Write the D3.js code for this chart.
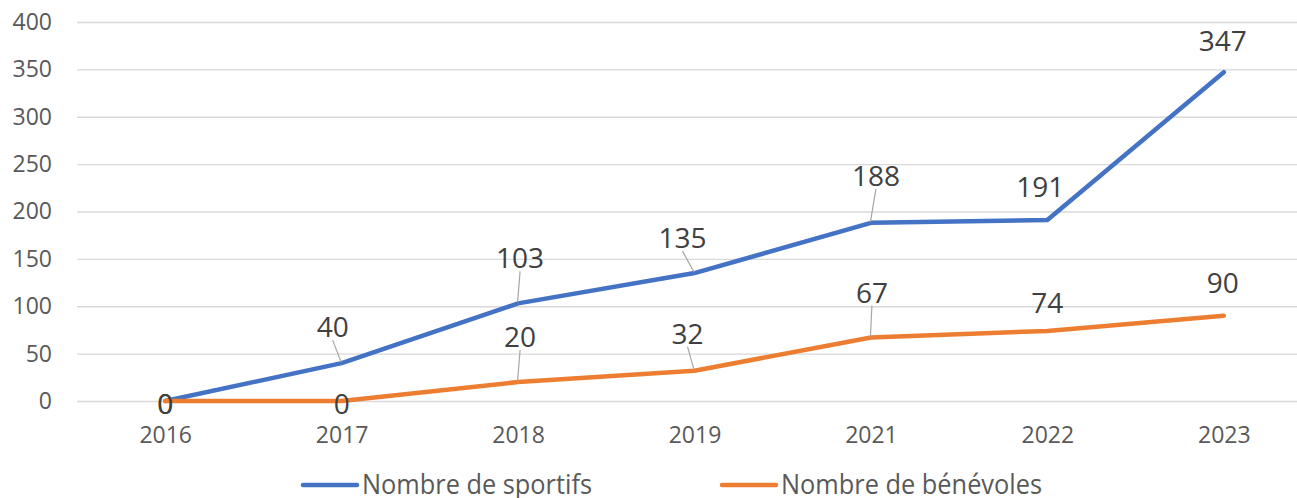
<!DOCTYPE html>
<html>
<head>
<meta charset="utf-8">
<script src="https://cdn.jsdelivr.net/npm/d3@7"></script>
<style>
  body { margin: 0; background: #fff; }
  svg { display: block; font-family: 'Open Sans', sans-serif; }
</style>
</head>
<body>
<div id="chart"></div>
<script>
const years = ['2016', '2017', '2018', '2019', '2021', '2022', '2023'];
const sportifs = [0, 40, 103, 135, 188, 191, 347];
const benevoles = [0, 0, 20, 32, 67, 74, 90];
const yTicks = [0, 50, 100, 150, 200, 250, 300, 350, 400];
const seriesNames = ['Nombre de sportifs', 'Nombre de bénévoles'];

// label offsets from the point (layout only), and whether a leader line is drawn
const sportifsLabelPos = [[0, 3, false], [-9, -36, true], [2, -45, true], [-12, -35, true], [5, -47, true], [-7, -33, false], [-1, -31, false]];
const benevolesLabelPos = [[0, 3, false], [0, 3, false], [2, -45, true], [-7, -37, true], [1, -45, true], [0, -28, false], [-1, -33, false]];

const width = 1297;
const height = 498;
const margin = { top: 22, left: 77, bottom: 97 };
const plotRight = 1312;

const svg = d3.select('#chart')
  .append('svg')
  .attr('width', width)
  .attr('height', height);

const x = d3.scalePoint()
  .domain(years)
  .range([margin.left, plotRight])
  .padding(0.5);

const y = d3.scaleLinear()
  .domain([0, 400])
  .range([height - margin.bottom, margin.top]);

// y axis + gridlines
const yAxis = svg.append('g')
  .attr('transform', `translate(${margin.left},0)`)
  .call(d3.axisLeft(y).tickValues(yTicks).tickSize(-(width - margin.left)).tickPadding(25));
yAxis.select('.domain').remove();
yAxis.selectAll('.tick line').attr('stroke', '#d9d9d9').attr('stroke-width', 1.3);
yAxis.selectAll('.tick text')
  .attr('fill', '#595959')
  .style('font-size', '23px')
  .style('font-family', "'Open Sans', sans-serif");

// x axis
const xAxis = svg.append('g')
  .attr('transform', `translate(0,${y(0)})`)
  .call(d3.axisBottom(x).tickSize(0).tickPadding(26));
xAxis.select('.domain').remove();
xAxis.selectAll('.tick text')
  .attr('fill', '#595959')
  .style('font-size', '23px')
  .style('font-family', "'Open Sans', sans-serif");

const series = [
  { name: seriesNames[0], values: sportifs, color: '#4472c4', labels: sportifsLabelPos },
  { name: seriesNames[1], values: benevoles, color: '#ed7d31', labels: benevolesLabelPos }
];

const line = d3.line()
  .x((d, i) => x(years[i]))
  .y(d => y(d));

series.forEach(s => {
  svg.append('path')
    .datum(s.values)
    .attr('fill', 'none')
    .attr('stroke', s.color)
    .attr('stroke-width', 4.5)
    .attr('stroke-linejoin', 'round')
    .attr('stroke-linecap', 'round')
    .attr('d', line);
});

// data labels and leader lines
series.forEach(s => {
  const g = svg.append('g');
  s.values.forEach((v, i) => {
    const px = x(years[i]);
    const py = y(v);
    const [dx, dy, leader] = s.labels[i];
    if (leader) {
      g.append('line')
        .attr('x1', px + dx)
        .attr('y1', py + dy + 13)
        .attr('x2', px - 0.5)
        .attr('y2', py - 1)
        .attr('stroke', '#a6a6a6')
        .attr('stroke-width', 1.2);
    }
    g.append('text')
      .attr('x', px + dx)
      .attr('y', py + dy)
      .attr('dy', '0.36em')
      .attr('text-anchor', 'middle')
      .attr('fill', '#404040')
      .style('font-size', '28px')
      .text(v);
  });
});

// legend
const legendX = [303, 722];
const legendTextW = [230, 261];
const legend = svg.append('g');
series.forEach((s, i) => {
  legend.append('line')
    .attr('x1', legendX[i])
    .attr('x2', legendX[i] + 54)
    .attr('y1', 485)
    .attr('y2', 485)
    .attr('stroke', s.color)
    .attr('stroke-width', 4.5)
    .attr('stroke-linecap', 'round');
  legend.append('text')
    .attr('x', legendX[i] + 59)
    .attr('y', 494)
    .attr('fill', '#595959')
    .attr('textLength', legendTextW[i])
    .attr('lengthAdjust', 'spacingAndGlyphs')
    .style('font-size', '27px')
    .text(s.name);
});
</script>
</body>
</html>
